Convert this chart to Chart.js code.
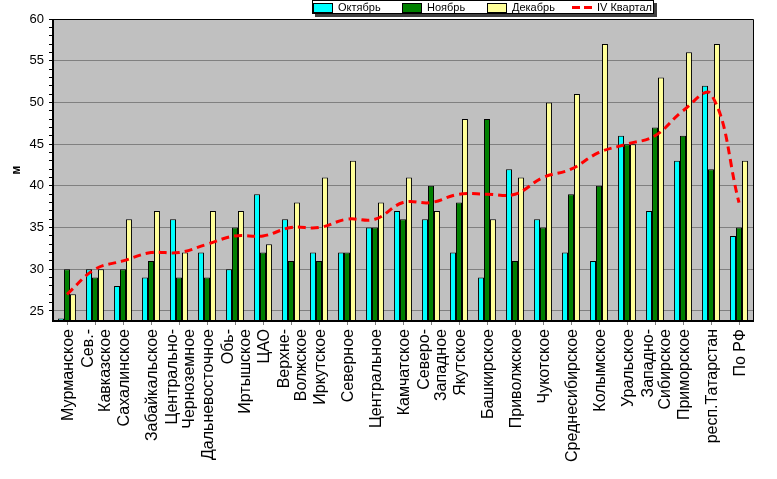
<!DOCTYPE html>
<html>
<head>
<meta charset="utf-8">
<script src="https://cdn.jsdelivr.net/npm/chart.js@4/dist/chart.umd.min.js"></script>
<style>
  body { margin: 0; background: #ffffff; }
  #chart_canvas { display: block; }
</style>
</head>
<body>
<canvas id="chart_canvas" width="777" height="479"></canvas>
<script>
/*
----------------------
Data for the chart
----------------------

*/
var categories = [
  ["Мурманское"],
  ["Сев.-", "Кавказское"],
  ["Сахалинское"],
  ["Забайкальское"],
  ["Центрально-", "Черноземное"],
  ["Дальневосточное"],
  ["Обь-", "Иртышское"],
  ["ЦАО"],
  ["Верхне-", "Волжское"],
  ["Иркутское"],
  ["Северное"],
  ["Центральное"],
  ["Камчатское"],
  ["Северо-", "Западное"],
  ["Якутское"],
  ["Башкирское"],
  ["Приволжское"],
  ["Чукотское"],
  ["Среднесибирское"],
  ["Колымское"],
  ["Уральское"],
  ["Западно-", "Сибирское"],
  ["Приморское"],
  ["респ.Татарстан"],
  ["По РФ"]
];

var series_names = ["Октябрь", "Ноябрь", "Декабрь", "IV Квартал"];

var october_values = [24.1, 30, 28, 29, 36, 32, 30, 39, 36, 32, 32, 35, 37, 36, 32, 29, 42, 36, 32, 31, 46, 37, 43, 52, 34];
var november_values = [30, 29, 30, 31, 29, 29, 35, 32, 31, 31, 32, 35, 36, 40, 38, 48, 31, 35, 39, 40, 45, 47, 46, 42, 35];
var december_values = [27, 30, 36, 37, 32, 37, 37, 33, 38, 41, 43, 38, 41, 37, 48, 36, 41, 50, 51, 57, 45, 53, 56, 57, 43];
var quarter_values = [27, 30, 31, 32, 32, 33, 34, 34, 35, 35, 36, 36, 38, 38, 39, 39, 39, 41, 42, 44, 45, 46, 49, 51, 38];

var y_min = 23.8;
var y_max = 60;
var y_major_step = 5;

var font_family = "'Liberation Sans', Arial, sans-serif";

/*
----------------------
Gray plot background, black frame and axis lines
----------------------

*/
var plot_frame_plugin = {
  id: "plot_frame",
  beforeDraw: function (chart) {
    var ctx = chart.ctx;
    var area = chart.chartArea;
    ctx.save();
    ctx.fillStyle = "#ffffff";
    ctx.fillRect(0, 0, chart.width, chart.height);
    ctx.fillStyle = "#c0c0c0";
    ctx.fillRect(area.left, area.top, area.right - area.left, area.bottom - area.top);
    ctx.restore();
  },
  afterDatasetsDraw: function (chart) {
    /*
    ------------------------------------------
    Axis lines lie on top of the bars
    ------------------------------------------

    */
    var ctx = chart.ctx;
    var area = chart.chartArea;
    ctx.save();
    ctx.strokeStyle = "#000000";
    ctx.lineWidth = 1;
    ctx.beginPath();
    ctx.moveTo(area.left, area.top + 0.5);
    ctx.lineTo(area.right + 0.5, area.top + 0.5);
    ctx.lineTo(area.right + 0.5, area.bottom);
    ctx.stroke();
    ctx.lineWidth = 2;
    ctx.beginPath();
    ctx.moveTo(area.left, area.top);
    ctx.lineTo(area.left, area.bottom);
    ctx.lineTo(area.right + 1, area.bottom);
    ctx.stroke();
    ctx.restore();
  }
};

/*
----------------------
Category labels, rotated, lines centred on the tick
----------------------

*/
var category_label_plugin = {
  id: "category_labels",
  afterDraw: function (chart) {
    var ctx = chart.ctx;
    var scale = chart.scales.x;
    var line_gap = 17.5;
    var top_y = 329;

    ctx.save();
    ctx.fillStyle = "#000000";
    ctx.font = "16px " + font_family;
    ctx.textAlign = "right";
    ctx.textBaseline = "middle";

    for (var i = 0; i < categories.length; i++) {
      var lines = categories[i];
      var tick_x = scale.getPixelForTick(i) + 2;
      for (var j = 0; j < lines.length; j++) {
        var line_x = tick_x + (j - (lines.length - 1) / 2) * line_gap;
        ctx.save();
        ctx.translate(line_x, top_y);
        ctx.rotate(-Math.PI / 2);
        ctx.fillText(lines[j], 0, 0);
        ctx.restore();
      }
    }
    ctx.restore();
  }
};

/*
----------------------
Boxed legend with shadow at the top
----------------------

*/
var legend_box_plugin = {
  id: "legend_box",
  afterDraw: function (chart) {
    var ctx = chart.ctx;
    var box = { x: 312, y: 0, w: 342, h: 14 };
    var item_x = [313, 402, 487, 572];
    var datasets = chart.data.datasets;

    ctx.save();
    ctx.fillStyle = "#404040";
    ctx.fillRect(box.x + 3, box.y + 3, box.w, box.h);
    ctx.fillStyle = "#ffffff";
    ctx.fillRect(box.x, box.y, box.w, box.h);
    ctx.strokeStyle = "#000000";
    ctx.lineWidth = 1;
    ctx.strokeRect(box.x + 0.5, box.y + 0.5, box.w - 1, box.h - 1);

    ctx.font = "11px " + font_family;
    ctx.textBaseline = "middle";
    ctx.textAlign = "left";

    for (var i = 0; i < datasets.length; i++) {
      var ds = datasets[i];
      var x = item_x[i];
      if (ds.type === "line") {
        ctx.strokeStyle = ds.borderColor;
        ctx.lineWidth = 3;
        ctx.setLineDash([8, 4]);
        ctx.beginPath();
        ctx.moveTo(x, 7.5);
        ctx.lineTo(x + 20, 7.5);
        ctx.stroke();
        ctx.setLineDash([]);
      } else {
        ctx.fillStyle = ds.backgroundColor;
        ctx.fillRect(x, 3, 19, 9);
        ctx.strokeStyle = "#000000";
        ctx.lineWidth = 1;
        ctx.strokeRect(x + 0.5, 3.5, 19, 9);
      }
      ctx.fillStyle = "#000000";
      ctx.fillText(ds.label, x + 25, 8);
    }
    ctx.restore();
  }
};

var bar_common = {
  type: "bar",
  borderColor: "#000000",
  borderWidth: 1,
  barPercentage: 1,
  categoryPercentage: 0.64,
  order: 1
};

function make_bar_dataset(label, values, color) {
  return Object.assign({}, bar_common, {
    label: label,
    data: values,
    backgroundColor: color
  });
}

var context = document.getElementById("chart_canvas").getContext("2d");

var main_chart = new Chart(context, {
  type: "bar",
  data: {
    labels: categories,
    datasets: [
      make_bar_dataset(series_names[0], october_values, "#00ffff"),
      make_bar_dataset(series_names[1], november_values, "#008000"),
      make_bar_dataset(series_names[2], december_values, "#ffff99"),
      {
        type: "line",
        label: series_names[3],
        data: quarter_values,
        borderColor: "#ff0000",
        borderWidth: 3,
        borderDash: [8, 5],
        pointRadius: 0,
        tension: 0.4,
        fill: false,
        order: 0
      }
    ]
  },
  options: {
    responsive: false,
    animation: false,
    layout: {
      padding: { left: 0, right: 24, top: 19, bottom: 0 }
    },
    scales: {
      x: {
        afterFit: function (scale) {
          scale.height = 158;
        },
        border: { display: false },
        grid: {
          offset: false,
          drawOnChartArea: false,
          tickLength: 4,
          tickColor: "#808080"
        },
        ticks: {
          display: false,
          autoSkip: false
        }
      },
      y: {
        min: y_min,
        max: y_max,
        afterFit: function (scale) {
          scale.width = 53;
        },
        afterBuildTicks: function (scale) {
          /*
          ------------------------------------------
          Minor ticks each unit, drop the odd min
          ------------------------------------------

          */
          scale.ticks = scale.ticks.filter(function (tick) {
            return Math.abs(tick.value - Math.round(tick.value)) < 1e-6;
          });
        },
        border: { display: false },
        grid: {
          color: function (ctx) {
            if (ctx.tick && Math.round(ctx.tick.value) % y_major_step === 0) {
              return "#808080";
            }
            return "rgba(0,0,0,0)";
          },
          tickColor: "#000000",
          tickLength: 4,
          lineWidth: 1
        },
        ticks: {
          stepSize: 1,
          autoSkip: false,
          padding: 5,
          color: "#000000",
          font: { family: font_family, size: 13 },
          callback: function (value) {
            return Math.round(value) % y_major_step === 0 ? value : "";
          }
        },
        title: {
          display: true,
          text: "м",
          color: "#000000",
          font: { family: font_family, size: 12, weight: "bold" },
          padding: { top: 9, bottom: 0 }
        }
      }
    },
    plugins: {
      legend: { display: false },
      tooltip: { enabled: false }
    }
  },
  plugins: [plot_frame_plugin, category_label_plugin, legend_box_plugin]
});
</script>
</body>
</html>
